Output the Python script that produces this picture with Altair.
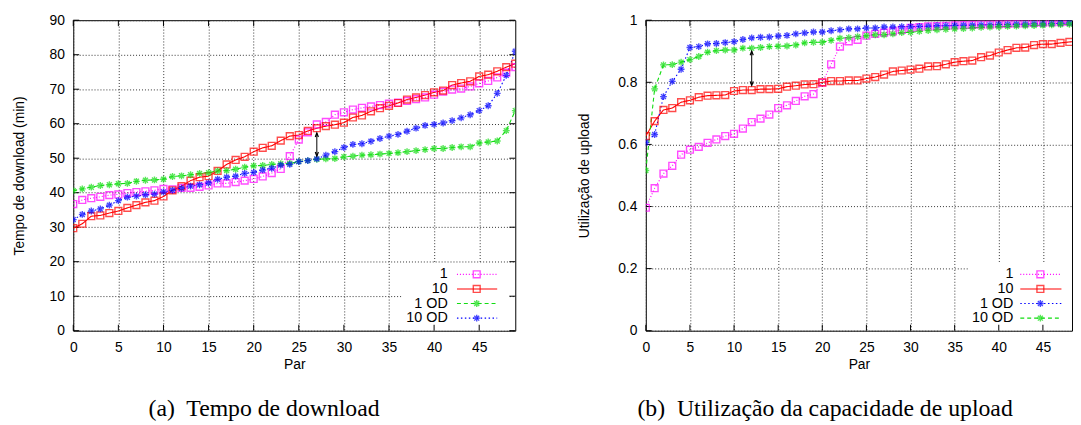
import altair as alt
import pandas as pd

# ---------------- data ----------------
x_vals = list(range(50))
series_names = ["1", "10", "1 OD", "10 OD"]
x_ticks = [0, 5, 10, 15, 20, 25, 30, 35, 40, 45]
dl_y_ticks = [0, 10, 20, 30, 40, 50, 60, 70, 80, 90]
up_y_ticks = [0, 0.2, 0.4, 0.6, 0.8, 1.0]

# (a) download time (min)
dl_s1 = [36.7, 37.9, 38.4, 38.8, 39.3, 39.5, 39.9, 40.2, 40.4, 40.7,
         41.1, 41.0, 41.4, 41.4, 41.7, 42.1, 42.7, 42.7, 43.1, 43.5,
         44.0, 44.7, 45.7, 46.9, 50.6, 55.4, 57.5, 59.8, 60.5, 62.6,
         63.3, 64.1, 64.6, 65.0, 65.4, 65.8, 66.1, 66.6, 67.1, 67.6,
         68.4, 69.3, 69.9, 70.2, 70.8, 71.7, 72.4, 73.4, 74.8, 76.4]
dl_s10 = [29.7, 31.0, 33.2, 33.4, 34.1, 34.7, 35.6, 36.4, 37.2, 37.7,
          38.9, 40.7, 41.9, 43.5, 44.5, 44.8, 46.3, 48.2, 49.5, 50.4,
          51.9, 53.0, 53.6, 55.1, 56.4, 56.7, 57.9, 58.7, 59.3, 59.7,
          60.3, 61.8, 62.4, 63.6, 64.5, 65.2, 66.0, 67.0, 67.6, 68.3,
          69.1, 69.6, 71.2, 71.8, 72.3, 73.7, 74.2, 75.2, 76.4, 77.4]
dl_s1od = [40.6, 41.1, 41.6, 42.1, 42.3, 42.6, 42.7, 43.3, 43.6, 43.7,
           43.9, 44.7, 44.9, 45.2, 45.6, 45.8, 46.3, 46.4, 46.8, 47.4,
           47.8, 47.9, 48.2, 48.4, 48.5, 49.0, 49.3, 49.7, 49.8, 49.9,
           50.4, 50.6, 50.9, 51.0, 51.2, 51.4, 51.6, 51.9, 52.2, 52.5,
           52.8, 52.8, 53.1, 53.3, 53.3, 54.4, 54.7, 55.0, 58.0, 63.8]
dl_s10od = [32.2, 33.7, 34.7, 35.3, 36.4, 37.7, 38.7, 39.0, 39.4, 39.6,
            40.2, 40.7, 41.3, 41.9, 42.3, 42.8, 43.9, 44.5, 44.8, 45.6,
            45.9, 46.6, 47.1, 48.0, 48.2, 49.0, 49.3, 49.8, 50.9, 51.9,
            53.1, 54.0, 54.2, 54.9, 55.7, 56.4, 56.9, 57.8, 58.7, 59.5,
            59.8, 60.2, 60.9, 61.7, 62.6, 63.8, 65.2, 68.8, 74.0, 81.0]

# (b) upload capacity utilisation
up_s1 = [0.396, 0.459, 0.506, 0.531, 0.567, 0.583, 0.592, 0.605, 0.616, 0.627,
         0.634, 0.651, 0.672, 0.683, 0.696, 0.717, 0.726, 0.740, 0.755, 0.762,
         0.799, 0.858, 0.915, 0.932, 0.937, 0.950, 0.956, 0.960, 0.964, 0.969,
         0.975, 0.978, 0.980, 0.981, 0.982, 0.983, 0.984, 0.985, 0.986, 0.986,
         0.987, 0.988, 0.989, 0.990, 0.991, 0.992, 0.993, 0.994, 0.995, 0.996]
up_s10 = [0.627, 0.675, 0.711, 0.717, 0.736, 0.742, 0.752, 0.757, 0.758, 0.759,
          0.772, 0.775, 0.775, 0.778, 0.778, 0.779, 0.786, 0.789, 0.793, 0.794,
          0.800, 0.804, 0.804, 0.806, 0.806, 0.812, 0.817, 0.825, 0.835, 0.838,
          0.841, 0.844, 0.851, 0.852, 0.858, 0.865, 0.868, 0.870, 0.881, 0.886,
          0.896, 0.904, 0.911, 0.912, 0.920, 0.923, 0.923, 0.927, 0.930, 0.932]
up_s1od = [0.606, 0.632, 0.754, 0.803, 0.842, 0.912, 0.915, 0.924, 0.925, 0.928,
           0.931, 0.938, 0.943, 0.945, 0.946, 0.949, 0.951, 0.956, 0.959, 0.962,
           0.962, 0.966, 0.969, 0.972, 0.972, 0.975, 0.975, 0.978, 0.978, 0.979,
           0.979, 0.980, 0.981, 0.982, 0.982, 0.983, 0.984, 0.984, 0.985, 0.985,
           0.986, 0.986, 0.987, 0.987, 0.988, 0.988, 0.989, 0.990, 0.991, 0.991]
up_s10od = [0.516, 0.779, 0.856, 0.857, 0.865, 0.873, 0.883, 0.897, 0.902, 0.904,
            0.904, 0.910, 0.910, 0.912, 0.915, 0.916, 0.917, 0.920, 0.927, 0.929,
            0.929, 0.935, 0.942, 0.944, 0.947, 0.950, 0.953, 0.953, 0.956, 0.960,
            0.961, 0.964, 0.967, 0.969, 0.971, 0.972, 0.973, 0.975, 0.977, 0.978,
            0.979, 0.980, 0.981, 0.982, 0.983, 0.984, 0.985, 0.986, 0.987, 0.988]

# double-headed arrows (x, lower end, upper end)
dl_arrow_x, dl_arrow_lo, dl_arrow_hi = [27], [50.6], [57.3]
up_arrow_x, up_arrow_lo, up_arrow_hi = [12], [0.79], [0.90]

caption_a = "(a)\u00a0 Tempo de download"
caption_b = "(b)\u00a0 Utilização da capacidade de upload"

# ---------------- helpers ----------------
FONT = "Liberation Sans"
STAR = "M-1,0L1,0M0,-1L0,1M-0.72,-0.72L0.72,0.72M-0.72,0.72L0.72,-0.72"
HEAD_UP = "M-0.5,1.3L0,0L0.5,1.3"
HEAD_DOWN = "M-0.5,-1.3L0,0L0.5,-1.3"
shapes = ["square", "square", STAR, STAR]
TICK = 6


def long_df(cols):
    rows = []
    for name, vals in zip(series_names, cols):
        for xv, yv in zip(x_vals, vals):
            rows.append({"x": xv, "y": yv, "series": name})
    return pd.DataFrame(rows)


def panel(df, arrow_df, colors, dashes, y_dom, y_ticks, y_fmt, y_title,
          y_title_pad, x_dom, width, height, leg, caption, right_ticks):
    color = alt.Color("series:N", scale=alt.Scale(domain=series_names, range=colors), legend=None)
    dash = alt.StrokeDash("series:N", scale=alt.Scale(domain=series_names, range=dashes), legend=None)
    shape = alt.Shape("series:N", scale=alt.Scale(domain=series_names, range=shapes), legend=None)
    x_enc = alt.X("x:Q", scale=alt.Scale(domain=x_dom, nice=False, zero=False),
                  axis=alt.Axis(values=x_ticks, title="Par", labelFlush=False))
    y_enc = alt.Y("y:Q", scale=alt.Scale(domain=y_dom, nice=False, zero=False),
                  axis=alt.Axis(values=y_ticks, format=y_fmt, title=y_title,
                                titlePadding=y_title_pad))

    # legend box first (white), then inward border ticks drawn on top
    leg_df = pd.DataFrame({"series": series_names})
    box = alt.Chart(leg_df.head(1)).mark_rect(color="white", opacity=1).encode(
        x=alt.value(leg["box_x"]), x2=alt.value(width - (TICK if right_ticks else 0)),
        y=alt.value(leg["box_y"]), y2=alt.value(height - 0.5))

    xt_df = pd.DataFrame({"x": x_ticks})
    yt_df = pd.DataFrame({"y": y_ticks})
    xt_bot = alt.Chart(xt_df).mark_rule(color="black", strokeWidth=1).encode(
        x=x_enc, y=alt.value(height), y2=alt.value(height - TICK))
    xt_top = alt.Chart(xt_df).mark_rule(color="black", strokeWidth=1).encode(
        x=x_enc, y=alt.value(0), y2=alt.value(TICK))
    yt_left = alt.Chart(yt_df).mark_rule(color="black", strokeWidth=1).encode(
        y=y_enc, x=alt.value(0), x2=alt.value(TICK))
    tick_layers = [xt_bot, xt_top, yt_left]
    if right_ticks:
        tick_layers.append(alt.Chart(yt_df).mark_rule(color="black", strokeWidth=1).encode(
            y=y_enc, x=alt.value(width - TICK), x2=alt.value(width)))

    lines = alt.Chart(df).mark_line(strokeWidth=1.1, clip=True).encode(
        x=x_enc, y=y_enc, color=color, strokeDash=dash, order="x:Q")
    pts = alt.Chart(df).mark_point(filled=False, size=48, strokeWidth=1.4, clip=True).encode(
        x=x_enc, y=y_enc, color=color, shape=shape)
    arr = alt.Chart(arrow_df).mark_rule(color="black", strokeWidth=1).encode(
        x=x_enc, y=y_enc, y2=alt.Y2("y_end:Q"))
    head_lo = alt.Chart(arrow_df).mark_point(shape=HEAD_DOWN, size=40, filled=False,
                                             color="black", strokeWidth=1.2, opacity=1).encode(
        x=x_enc, y=y_enc)
    head_hi = alt.Chart(arrow_df).transform_calculate(y="datum.y_end").mark_point(
        shape=HEAD_UP, size=40, filled=False, color="black", strokeWidth=1.2, opacity=1).encode(
        x=x_enc, y=y_enc)
    main = alt.layer(box, *tick_layers, lines, pts, arr, head_lo, head_hi)

    ly = alt.Y("series:N", sort=series_names,
               scale=alt.Scale(type="point", range=leg["rows"], padding=0), axis=None)
    lrule = alt.Chart(leg_df).mark_rule(strokeWidth=1.1).encode(
        x=alt.value(leg["line_x1"]), x2=alt.value(leg["line_x2"]), y=ly,
        color=color, strokeDash=dash)
    lpt = alt.Chart(leg_df).mark_point(filled=False, size=48, strokeWidth=1.4).encode(
        x=alt.value(leg["mark_x"]), y=ly, color=color, shape=shape)
    ltxt = alt.Chart(leg_df).mark_text(align="right", baseline="middle", font=FONT,
                                       fontSize=14.5, color="black").encode(
        x=alt.value(leg["text_x"]), y=ly, text="series:N")
    legend = alt.layer(lrule, lpt, ltxt)

    return alt.layer(main, legend).resolve_scale(y="independent").properties(
        width=width, height=height,
        title=alt.TitleParams(caption, orient="bottom", anchor="middle", frame="bounds",
                              font="Liberation Serif", fontSize=24, fontWeight="normal",
                              color="black", offset=26))


dl_df = long_df([dl_s1, dl_s10, dl_s1od, dl_s10od])
up_df = long_df([up_s1, up_s10, up_s1od, up_s10od])
dl_arrow = pd.DataFrame({"x": dl_arrow_x, "y": dl_arrow_lo, "y_end": dl_arrow_hi})
up_arrow = pd.DataFrame({"x": up_arrow_x, "y": up_arrow_lo, "y_end": up_arrow_hi})

MAG, RED, GRN, BLU = "#ff00ff", "#ff0000", "#11dd11", "#0000ff"
DOT, SOLID, DASH, DOT2 = [1, 2], [1, 0], [4, 3], [1.5, 2.5]

left = panel(dl_df, dl_arrow, [MAG, RED, GRN, BLU], [DOT, SOLID, DASH, DOT2],
             [0, 90], dl_y_ticks, "d", "Tempo de download (min)", 23,
             [0, 49], 447, 314,
             dict(text_x=378.7, line_x1=388, line_x2=428.7, mark_x=408,
                  box_x=333, box_y=246, rows=[257, 301.3]),
             caption_a, True)
right = panel(up_df, up_arrow, [MAG, RED, BLU, GRN], [DOT, SOLID, DOT2, DASH],
              [0, 1], up_y_ticks, ".1~f", "Utilização de upload", 26,
              [0, 48.3], 431, 314,
              dict(text_x=371.7, line_x1=378.7, line_x2=420.3, mark_x=399,
                   box_x=326, box_y=245, rows=[257, 301.3]),
              caption_b, False)

chart = alt.hconcat(left, right, spacing=62).resolve_scale(
    color="independent", strokeDash="independent", shape="independent"
).properties(
    padding={"left": 3, "top": 2, "right": 0, "bottom": 0}
).configure_view(stroke="black", strokeWidth=1).configure_axis(
    labelFont=FONT, labelFontSize=14, labelColor="black",
    titleFont=FONT, titleFontSize=14, titleFontWeight="normal", titleColor="black",
    domain=False, ticks=False, tickSize=0, labelPadding=9,
    grid=True, gridColor="#333333", gridDash=[1, 2], gridOpacity=1, gridWidth=1
).configure_axisX(labelPadding=10, titlePadding=3)

chart.save("out.html", embed_options={"renderer": "svg", "actions": False})
